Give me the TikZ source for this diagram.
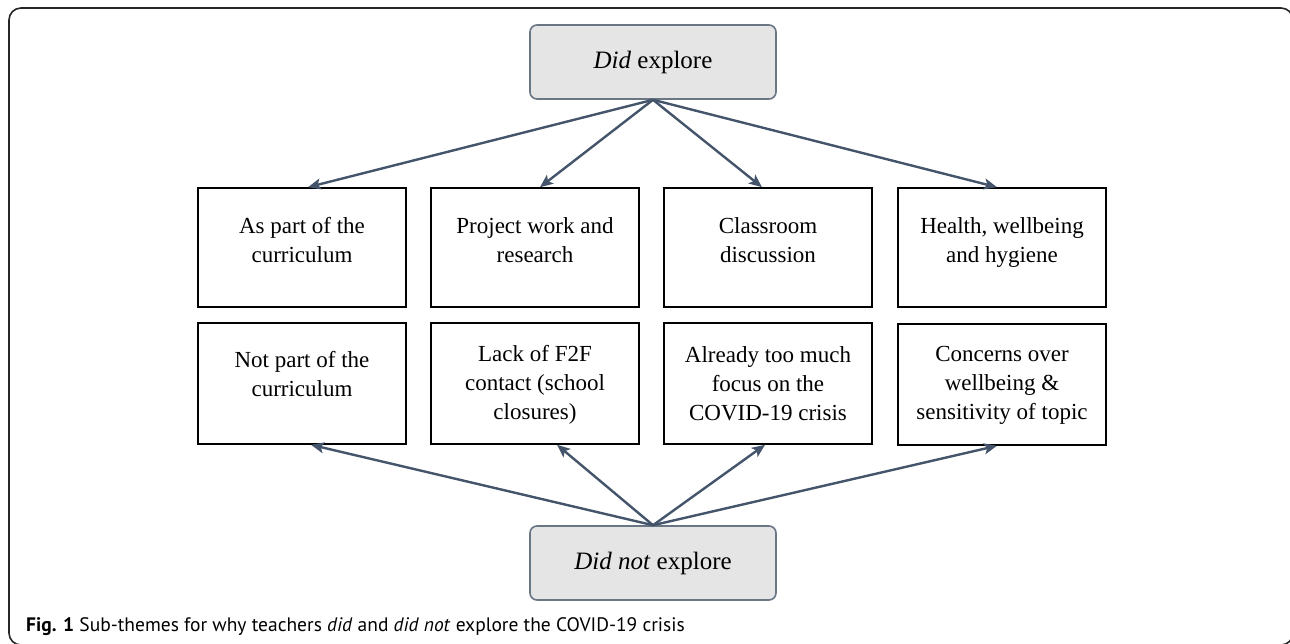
\documentclass[tikz,border=0pt]{standalone}
\usepackage{fontspec}
\setmainfont{Liberation Serif}
\newfontfamily\capfont{PT Sans}
\usetikzlibrary{arrows.meta}
\definecolor{arr}{HTML}{44546A}
\definecolor{gfill}{HTML}{E5E5E5}
\definecolor{gline}{HTML}{6B7685}
\begin{document}
\begin{tikzpicture}[x=1pt,y=-1pt,
  wbox/.style={draw=black, line width=1.6pt, minimum width=208pt, inner sep=0pt},
  gbox/.style={draw=gline, fill=gfill, line width=1.6pt, rounded corners=7pt,
    minimum width=246pt, minimum height=74pt, inner sep=0pt},
  txt/.style={anchor=base, align=center, inner sep=0pt, font=\fontsize{23}{29}\selectfont},
  gtxt/.style={anchor=base, align=center, inner sep=0pt, font=\fontsize{25}{30}\selectfont},
  link/.style={draw=arr, line width=2.4pt, -{Stealth[length=13pt,width=11pt,inset=3pt]}},
  frame/.style={draw=black!85, line width=1.6pt, rounded corners=12pt}
]
\useasboundingbox (0,0) rectangle (1290,643);
\draw[frame] (9,8) rectangle (1293,645);

% top and bottom nodes
\node[gbox] (did) at (653,62) {};
\node[gtxt] (didt) at (653,68) {\textit{Did} explore};
\node[gbox] (didnot) at (653,563) {};
\node[gtxt] (didnott) at (653,569) {\textit{Did not} explore};

% row 1
\node[wbox, minimum height=119pt] (a1) at (302,247.5) {};
\node[wbox, minimum height=119pt] (a2) at (535,247.5) {};
\node[wbox, minimum height=119pt] (a3) at (768,247.5) {};
\node[wbox, minimum height=119pt] (a4) at (1002,247.5) {};
\node[txt] (ta1) at (302,262) {As part of the\\curriculum};
\node[txt] (ta2) at (535,262) {Project work and\\research};
\node[txt] (ta3) at (768,262) {Classroom\\discussion};
\node[txt] (ta4) at (1002,262) {Health, wellbeing\\and hygiene};

% row 2
\node[wbox, minimum height=121pt] (b1) at (302,383.5) {};
\node[wbox, minimum height=121pt] (b2) at (535,383.5) {};
\node[wbox, minimum height=121pt] (b3) at (768,383.5) {};
\node[wbox, minimum height=121pt] (b4) at (1002,384.5) {};
\node[txt] (tb1) at (302,396) {Not part of the\\curriculum};
\node[txt] (tb2) at (535,419) {Lack of F2F\\contact (school\\closures)};
\node[txt] (tb3) at (768,420) {Already too much\\focus on the\\COVID-19 crisis};
\node[txt] (tb4) at (1002,419) {Concerns over\\wellbeing \&\\sensitivity of topic};

% arrows
\draw[link] (did.south) -- ([xshift=6pt]a1.north);
\draw[link] (did.south) -- ([xshift=5pt]a2.north);
\draw[link] (did.south) -- ([xshift=-6pt]a3.north);
\draw[link] (did.south) -- ([xshift=-5pt]a4.north);
\draw[link] (didnot.north) -- ([xshift=9pt]b1.south);
\draw[link] (didnot.north) -- ([xshift=22pt]b2.south);
\draw[link] (didnot.north) -- ([xshift=-3pt]b3.south);
\draw[link] (didnot.north) -- ([xshift=-5pt]b4.south);

% caption
\node[anchor=base west, inner sep=0pt, font=\capfont\fontsize{19.5}{22}\selectfont] (cap) at (26,631)
  {\textbf{Fig. 1} Sub-themes for why teachers \textit{did} and \textit{did not} explore the COVID-19 crisis};
\end{tikzpicture}
\end{document}
